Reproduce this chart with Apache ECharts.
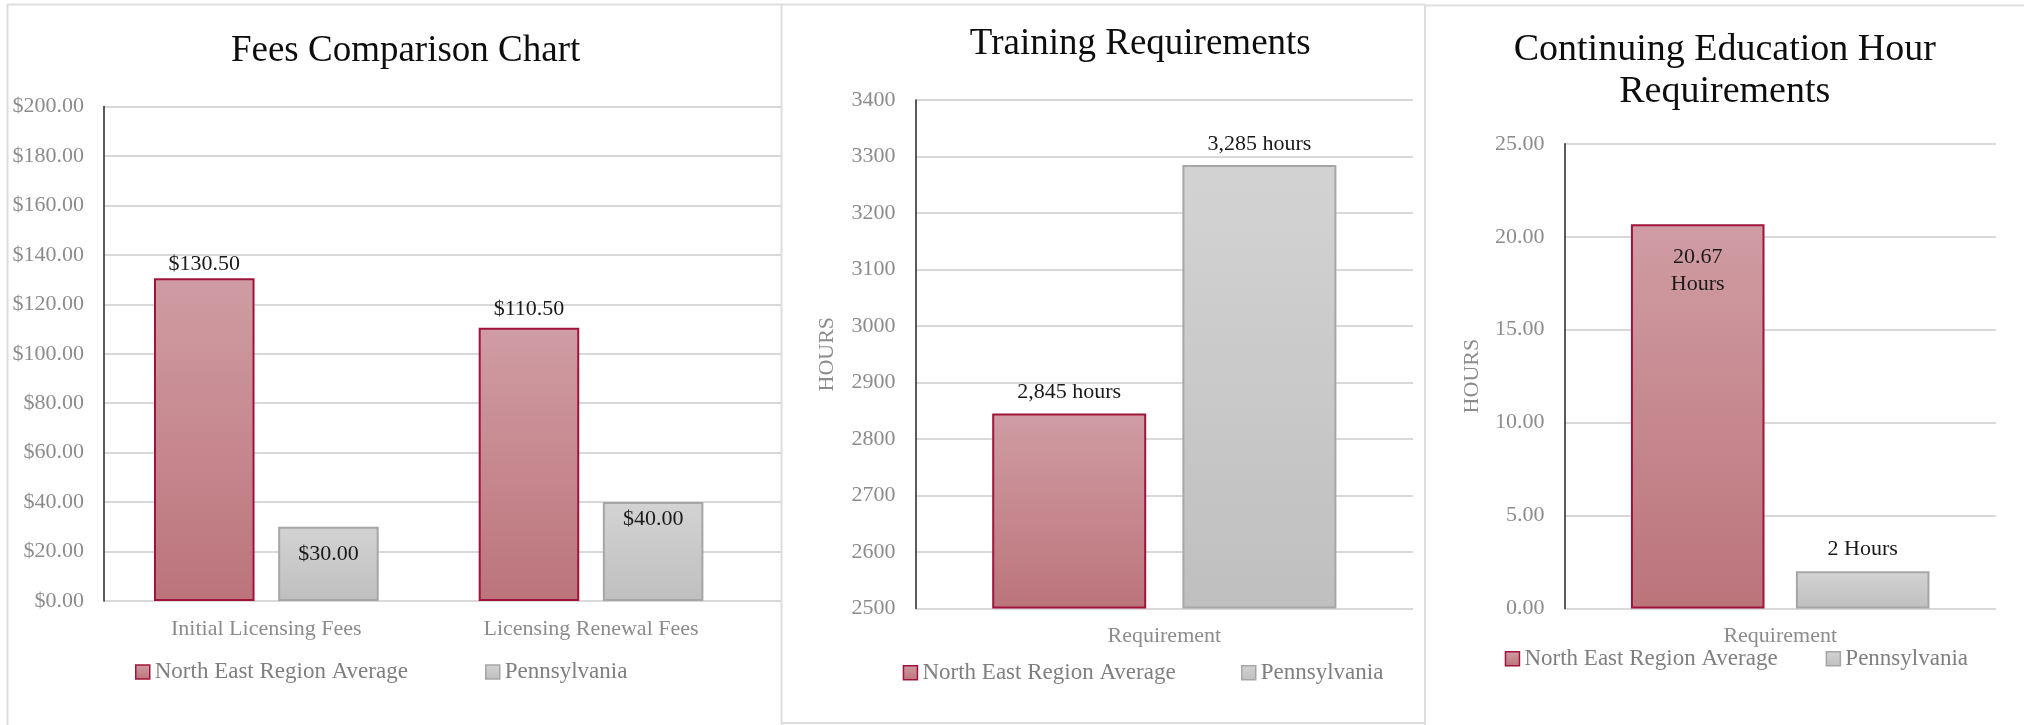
<!DOCTYPE html>
<html>
<head>
<meta charset="utf-8">
<script src="https://cdn.jsdelivr.net/npm/echarts@6/dist/echarts.min.js"></script>
<style>
  html, body { margin: 0; padding: 0; background: #ffffff; }
  #chart { width: 2024px; height: 725px; }
</style>
</head>
<body>
<div id="chart"></div>
<script>
// ---- data ----
const seriesNames = ['North East Region Average', 'Pennsylvania'];

const feeCategories = ['Initial Licensing Fees', 'Licensing Renewal Fees'];
const feeNorthEast = [130.5, 110.5];
const feePennsylvania = [30, 40];
const feeAxis = { min: 0, max: 200, interval: 20 };

const trainingCategories = ['Requirement'];
const trainingNorthEast = [2845];
const trainingPennsylvania = [3285];
const trainingAxis = { min: 2500, max: 3400, interval: 100 };

const ceCategories = ['Requirement'];
const ceNorthEast = [20.67];
const cePennsylvania = [2];
const ceAxis = { min: 0, max: 25, interval: 5 };

const titles = ['Fees Comparison Chart', 'Training Requirements', 'Continuing Education Hour\nRequirements'];
const yAxisName = 'HOURS';

// ---- styling ----
const FONT = "'Liberation Serif', 'Times New Roman', serif";
const GRID_LINE = '#d9d9d9';
const TICK_COLOR = '#8c8c8c';
const LEGEND_COLOR = '#7f7f7f';
const LABEL_COLOR = '#1a1a1a';
const PANEL_LINE = '#dedede';

const neFill = () => new echarts.graphic.LinearGradient(0, 0, 0, 1, [
  { offset: 0, color: '#d09ca3' }, { offset: 1, color: '#bc747b' }
]);
const paFill = () => new echarts.graphic.LinearGradient(0, 0, 0, 1, [
  { offset: 0, color: '#d3d3d3' }, { offset: 1, color: '#bfbfbf' }
]);
const neItem = () => ({ color: neFill(), borderColor: '#a0143c', borderWidth: 2 });
const paItem = () => ({ color: paFill(), borderColor: '#a6a6a6', borderWidth: 2 });

const BAR_GAP = '23.5%';
const CAT_GAP = '30.8%';

function valueAxis(gridIndex, ext, opts) {
  return Object.assign({
    type: 'value', gridIndex,
    min: ext.min, max: ext.max, interval: ext.interval,
    axisLine: { show: true, lineStyle: { color: '#262626', width: 1.5 } },
    axisTick: { show: false },
    axisLabel: { margin: 20, fontSize: 22, color: TICK_COLOR, fontFamily: FONT, formatter: v => String(v) },
    splitLine: { show: true, lineStyle: { color: GRID_LINE, width: 2 } }
  }, opts || {});
}

function categoryAxis(gridIndex, cats, margin) {
  return {
    type: 'category', gridIndex, data: cats,
    axisLine: { show: false }, axisTick: { show: false },
    axisLabel: { margin, fontSize: 22, color: TICK_COLOR, fontFamily: FONT }
  };
}

function barLabel(position, distance, formatter) {
  return {
    show: true, position, distance, formatter,
    fontSize: 22, color: LABEL_COLOR, fontFamily: FONT, lineHeight: 27
  };
}

// per-bar label distances for the fee chart (bar index -> px)
const withLabelDistance = (values, distances) =>
  values.map((v, i) => ({ value: v, label: { distance: distances[i] } }));

function legendAt(name, left, centerY) {
  return {
    data: [name], left, top: centerY - 11.5, padding: 0,
    icon: 'rect', itemWidth: 14, itemHeight: 14,
    itemStyle: { borderWidth: 1.5 },
    textStyle: { fontSize: 23, color: LEGEND_COLOR, fontFamily: FONT },
    selectedMode: false
  };
}

const money = v => '$' + Number(v).toFixed(2);

const panelLines = [
  [7.5, 4.5, 7.5, 725], [7, 4.5, 782, 4.5],
  [781.5, 4.5, 781.5, 725],
  [781, 4.5, 1425, 4.5], [781, 723, 1425, 723],
  [1425, 4.5, 1425, 725],
  [1425, 5.5, 2024, 5.5]
];

const titleStyle = (text, size, lineHeight) => ({
  text, fontSize: size, lineHeight, fontFamily: FONT, fill: '#0d0d0d',
  align: 'center', verticalAlign: 'middle'
});

const option = {
  backgroundColor: '#ffffff',
  animation: false,
  grid: [
    { left: 104, top: 106.5, width: 677, height: 494.5 },     // fee gridlines (runs to the panel edge)
    { left: 104, top: 106.5, width: 649.4, height: 494.5 },   // fee bars
    { left: 915.6, top: 100, width: 497.4, height: 508.4 },   // training
    { left: 1564.5, top: 143.8, width: 431.4, height: 464.6 } // continuing education
  ],
  xAxis: [
    { type: 'value', gridIndex: 0, min: 0, max: 1, show: false },
    categoryAxis(1, feeCategories, 17),
    categoryAxis(2, trainingCategories, 17),
    categoryAxis(3, ceCategories, 17)
  ],
  yAxis: [
    valueAxis(0, feeAxis, {
      axisLine: { show: false },
      axisLabel: { margin: 20, fontSize: 22, color: TICK_COLOR, fontFamily: FONT, formatter: money }
    }),
    valueAxis(1, feeAxis, { axisLabel: { show: false }, splitLine: { show: false } }),
    valueAxis(2, trainingAxis, {
      startValue: trainingAxis.min,
      name: yAxisName, nameLocation: 'middle', nameGap: 77,
      nameTextStyle: { fontSize: 22, color: TICK_COLOR, fontFamily: FONT }
    }),
    valueAxis(3, ceAxis, {
      name: yAxisName, nameLocation: 'middle', nameGap: 81,
      nameTextStyle: { fontSize: 22, color: TICK_COLOR, fontFamily: FONT },
      axisLabel: { margin: 20, fontSize: 22, color: TICK_COLOR, fontFamily: FONT, formatter: v => v.toFixed(2) }
    })
  ],
  legend: [
    legendAt(seriesNames[0], 135, 672), legendAt(seriesNames[1], 485, 672),
    legendAt(seriesNames[0], 902.7, 672.7), legendAt(seriesNames[1], 1241, 672.7),
    legendAt(seriesNames[0], 1504.7, 658.8), legendAt(seriesNames[1], 1825.6, 658.8)
  ],
  series: [
    {
      type: 'bar', name: seriesNames[0], xAxisIndex: 1, yAxisIndex: 1,
      data: withLabelDistance(feeNorthEast, [1, 5]), barGap: BAR_GAP, barCategoryGap: CAT_GAP,
      itemStyle: neItem(), label: barLabel('top', 4, p => money(p.value))
    },
    {
      type: 'bar', name: seriesNames[1], xAxisIndex: 1, yAxisIndex: 1,
      data: withLabelDistance(feePennsylvania, [14, 4]), barGap: BAR_GAP, barCategoryGap: CAT_GAP,
      itemStyle: paItem(), label: barLabel('insideTop', 10, p => money(p.value))
    },
    {
      type: 'bar', name: seriesNames[0], xAxisIndex: 2, yAxisIndex: 2,
      data: trainingNorthEast, barGap: BAR_GAP, barCategoryGap: CAT_GAP,
      itemStyle: neItem(),
      label: barLabel('top', 8, p => p.value.toLocaleString('en-US') + ' hours')
    },
    {
      type: 'bar', name: seriesNames[1], xAxisIndex: 2, yAxisIndex: 2,
      data: trainingPennsylvania, barGap: BAR_GAP, barCategoryGap: CAT_GAP,
      itemStyle: paItem(),
      label: barLabel('top', 7, p => p.value.toLocaleString('en-US') + ' hours')
    },
    {
      type: 'bar', name: seriesNames[0], xAxisIndex: 3, yAxisIndex: 3,
      data: ceNorthEast, barGap: BAR_GAP, barCategoryGap: CAT_GAP,
      itemStyle: neItem(),
      label: barLabel('insideTop', 19, p => p.value.toFixed(2) + '\nHours')
    },
    {
      type: 'bar', name: seriesNames[1], xAxisIndex: 3, yAxisIndex: 3,
      data: cePennsylvania, barGap: BAR_GAP, barCategoryGap: CAT_GAP,
      itemStyle: paItem(),
      label: barLabel('top', 9, p => p.value + ' Hours')
    }
  ],
  graphic: [
    ...panelLines.map(([x1, y1, x2, y2]) => ({
      type: 'line', silent: true, z: 10,
      shape: { x1, y1, x2, y2 },
      style: { stroke: PANEL_LINE, lineWidth: 2 }
    })),
    { type: 'text', x: 405.6, y: 51, style: titleStyle(titles[0], 37) },
    { type: 'text', x: 1140.3, y: 44, style: titleStyle(titles[1], 37) },
    { type: 'text', x: 1724.8, y: 71, style: titleStyle(titles[2], 38, 42) }
  ]
};

const chart = echarts.init(document.getElementById('chart'), null, { renderer: 'canvas' });
chart.setOption(option);
</script>
</body>
</html>
